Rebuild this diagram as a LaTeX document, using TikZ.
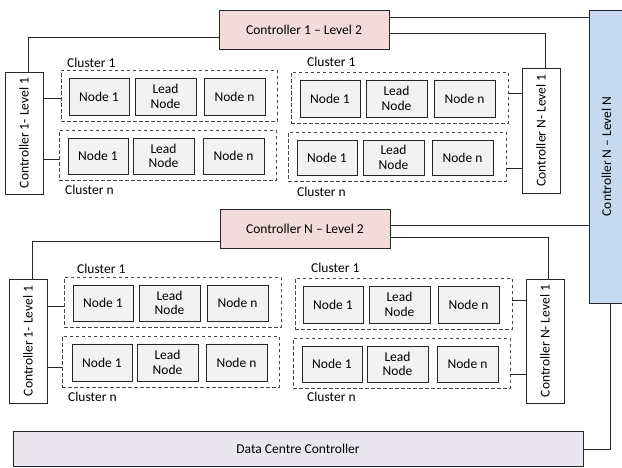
\documentclass[tikz,border=0pt]{standalone}
\usepackage{fontspec}
\setmainfont{Carlito}
\definecolor{linec}{HTML}{262626}
\definecolor{nodefill}{HTML}{F2F2F2}
\definecolor{pinkfill}{HTML}{F2DCDB}
\definecolor{bluefill}{HTML}{C6D9F1}
\definecolor{lilacfill}{HTML}{EAE6EF}
\tikzset{
  base/.style={draw=linec, line width=0.75pt, inner sep=0pt, align=center, text=black, font=\fontsize{13.5}{14.5}\selectfont},
  nodebox/.style={base, fill=nodefill},
  ctrltwo/.style={base, fill=pinkfill},
  ctrlone/.style={base, fill=white},
  ctrltop/.style={base, fill=bluefill},
  dcbox/.style={base, fill=lilacfill},
  cluster/.style={draw=linec!85, line width=0.75pt, dash pattern=on 3.5pt off 2.5pt, inner sep=0pt},
  clabel/.style={anchor=west, inner sep=0pt, font=\fontsize{13.5}{14.5}\selectfont},
  wire/.style={draw=linec, line width=0.75pt},
}
% horizontal box given by its corners (x1,y1)-(x2,y2)
\newcommand\hrbox[7]{\node[#6, minimum width={(#4)-(#2)}, minimum height={(#5)-(#3)}] (#1) at ({((#2)+(#4))/2},{((#3)+(#5))/2}) {#7};}
% box whose text runs bottom to top
\newcommand\vertbox[7]{\node[#6, rotate=90, minimum width={(#5)-(#3)}, minimum height={(#4)-(#2)}] (#1) at ({((#2)+(#4))/2},{((#3)+(#5))/2}) {#7};}
% one cluster: dashed frame and its three nodes
\newcommand\clusterrow[8]{%
  \hrbox{#1}{#2}{#3}{#4}{#5}{cluster}{}
  \hrbox{#1a}{#6}{#3+8}{#6+60}{#5-6}{nodebox}{Node 1}
  \hrbox{#1b}{#7}{#3+8}{#7+61}{#5-6}{nodebox}{Lead\\Node}
  \hrbox{#1c}{#8}{#3+8}{#8+61}{#5-6}{nodebox}{Node n}
}
\begin{document}
\begin{tikzpicture}[x=1pt, y=-1pt]
\useasboundingbox (0,0) rectangle (622,467);
\clip (0,0) rectangle (622,467);

% level 2 and level N controllers
\hrbox{ctrlAtwo}{219}{10}{389}{49}{ctrltwo}{Controller 1 -- Level 2}
\hrbox{ctrlBtwo}{220}{209}{390}{248}{ctrltwo}{Controller N -- Level 2}
\vertbox{ctrlNN}{589}{10}{624}{303}{ctrltop}{Controller N -- Level N}
\hrbox{dc}{13}{431}{583}{466}{dcbox}{Data Centre Controller}

% level 1 controllers
\vertbox{ctrlAL}{5}{72}{43}{194}{ctrlone}{Controller 1- Level 1}
\vertbox{ctrlAR}{522}{68}{560}{193}{ctrlone}{Controller N- Level 1}
\vertbox{ctrlBL}{9}{279}{47}{403}{ctrlone}{Controller 1- Level 1}
\vertbox{ctrlBR}{526}{279}{564}{403}{ctrlone}{Controller N- Level 1}

% clusters of the first group
\clusterrow{tlone}{61}{70}{277}{121}{69}{135}{204}
\clusterrow{tln}{59}{130}{276}{180}{68}{133}{203}
\clusterrow{trone}{291}{72}{508}{123}{300}{366}{434}
\clusterrow{trn}{288}{132}{506}{181}{297}{363}{432}
% clusters of the second group
\clusterrow{blone}{64}{277}{281}{327}{73}{139}{207}
\clusterrow{bln}{62}{336}{279}{387}{72}{137}{206}
\clusterrow{brone}{295}{278}{512}{329}{303}{369}{438}
\clusterrow{brn}{293}{338}{510}{388}{302}{367}{437}

% cluster captions
\node[clabel] (lbtlone) at (67,63) {Cluster 1};
\node[clabel] (lbtln) at (65,190) {Cluster n};
\node[clabel] (lbtrone) at (307,62) {Cluster 1};
\node[clabel] (lbtrn) at (297,192) {Cluster n};
\node[clabel] (lbblone) at (77,269) {Cluster 1};
\node[clabel] (lbbln) at (68,397) {Cluster n};
\node[clabel] (lbbrone) at (311,268) {Cluster 1};
\node[clabel] (lbbrn) at (307,397) {Cluster n};

% controller links
\draw[wire] (ctrlAtwo.west |- 0,37) -| (ctrlAL.east -| 28,0);
\draw[wire] (ctrlAtwo.east |- 0,17) -- (ctrlNN.north |- 0,17);
\draw[wire] (ctrlAtwo.east |- 0,33) -| (ctrlAR.east -| 545,0);
\draw[wire] (ctrlBtwo.west |- 0,241) -| (ctrlBL.east -| 32,0);
\draw[wire] (ctrlBtwo.east |- 0,225) -- (ctrlNN.north |- 0,225);
\draw[wire] (ctrlBtwo.east |- 0,237) -| (ctrlBR.east -| 548,0);
\draw[wire] (ctrlNN.west -| 610,0) |- (dc.east |- 0,449);

% level 1 controllers to clusters
\draw[wire] (ctrlAL.south |- 0,98) -- (tlone.west |- 0,98);
\draw[wire] (ctrlAL.south |- 0,159) -- (tln.west |- 0,159);
\draw[wire] (ctrlAR.north |- 0,93) -- (trone.east |- 0,93);
\draw[wire] (ctrlAR.north |- 0,168) -- (trn.east |- 0,168);
\draw[wire] (ctrlBL.south |- 0,306) -- (blone.west |- 0,306);
\draw[wire] (ctrlBL.south |- 0,367) -- (bln.west |- 0,367);
\draw[wire] (ctrlBR.north |- 0,300) -- (brone.east |- 0,300);
\draw[wire] (ctrlBR.north |- 0,374) -- (brn.east |- 0,374);
\end{tikzpicture}
\end{document}
